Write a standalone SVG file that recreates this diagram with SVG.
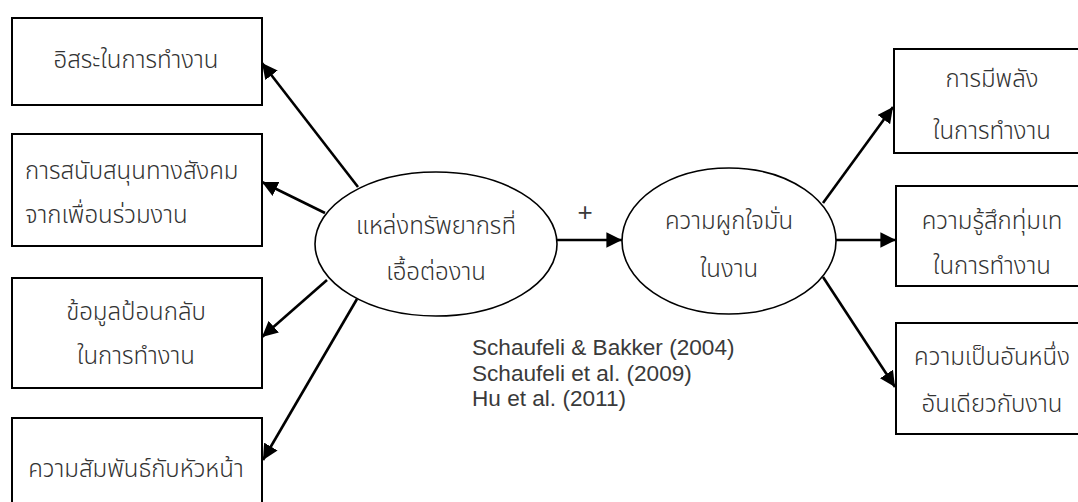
<svg xmlns="http://www.w3.org/2000/svg" width="1078" height="502" viewBox="0 0 1078 502">
  <style>
    .box { fill: #ffffff; stroke: #000000; stroke-width: 2; }
    .oval { fill: #ffffff; stroke: #000000; stroke-width: 1.6; }
    .th { font-family: "Noto Sans Thai", "Noto Sans Thai Looped", "Tlwg Typist", "Loma", "Garuda", "Noto Sans", "DejaVu Sans", sans-serif; font-size: 24px; font-weight: 300; fill: #333333; dominant-baseline: central; }
    .mid { text-anchor: middle; }
    .ref { font-family: "Liberation Sans", Arial, sans-serif; font-size: 22.6px; fill: #3a3a3a; dominant-baseline: central; }
    .plus { font-family: "Liberation Sans", Arial, sans-serif; font-size: 26px; fill: #3a3a3a; dominant-baseline: central; }
    .conn line { stroke: #000000; stroke-width: 2.6; }
  </style>
  <defs>
    <marker id="arrow" viewBox="0 0 10 10" refX="10" refY="5" markerWidth="6" markerHeight="6" markerUnits="strokeWidth" orient="auto">
      <path d="M0,0 L10,5 L0,10 z" fill="#000000"/>
    </marker>
  </defs>

  <!-- left-hand resource boxes -->
  <g id="autonomy">
    <rect class="box" x="12" y="18" width="250" height="87"/>
    <text class="th mid" x="136" y="61">อิสระในการทำงาน</text>
  </g>
  <g id="social-support">
    <rect class="box" x="12" y="134" width="250" height="112"/>
    <text class="th" x="25" y="172">การสนับสนุนทางสังคม</text>
    <text class="th" x="25" y="216">จากเพื่อนร่วมงาน</text>
  </g>
  <g id="feedback">
    <rect class="box" x="12" y="278" width="250" height="110"/>
    <text class="th mid" x="136" y="313">ข้อมูลป้อนกลับ</text>
    <text class="th mid" x="136" y="357">ในการทำงาน</text>
  </g>
  <g id="supervisor">
    <rect class="box" x="12" y="418" width="250" height="100"/>
    <text class="th mid" x="136" y="470">ความสัมพันธ์กับหัวหน้า</text>
  </g>

  <!-- central constructs -->
  <g id="job-resources">
    <ellipse class="oval" cx="436" cy="244" rx="121" ry="72"/>
    <text class="th mid" x="436" y="227">แหล่งทรัพยากรที่</text>
    <text class="th mid" x="436" y="273">เอื้อต่องาน</text>
  </g>
  <g id="engagement">
    <ellipse class="oval" cx="729" cy="241" rx="107" ry="73"/>
    <text class="th mid" x="729" y="222">ความผูกใจมั่น</text>
    <text class="th mid" x="729" y="270">ในงาน</text>
  </g>

  <!-- right-hand engagement dimensions -->
  <g id="vigor">
    <rect class="box" x="894" y="49" width="200" height="104"/>
    <text class="th mid" x="992" y="80">การมีพลัง</text>
    <text class="th mid" x="992" y="132">ในการทำงาน</text>
  </g>
  <g id="dedication">
    <rect class="box" x="896" y="186" width="200" height="100"/>
    <text class="th mid" x="992" y="222">ความรู้สึกทุ่มเท</text>
    <text class="th mid" x="992" y="267">ในการทำงาน</text>
  </g>
  <g id="absorption">
    <rect class="box" x="896" y="323" width="200" height="111"/>
    <text class="th mid" x="992" y="358">ความเป็นอันหนึ่ง</text>
    <text class="th mid" x="992" y="405">อันเดียวกับงาน</text>
  </g>

  <!-- arrows -->
  <g id="connectors" class="conn">
    <line x1="358" y1="187" x2="262" y2="63" marker-end="url(#arrow)"/>
    <line x1="325" y1="213" x2="262" y2="182" marker-end="url(#arrow)"/>
    <line x1="327" y1="280" x2="262" y2="337" marker-end="url(#arrow)"/>
    <line x1="357" y1="299" x2="263" y2="460" marker-end="url(#arrow)"/>
    <line x1="557" y1="240" x2="622" y2="240" marker-end="url(#arrow)"/>
    <line x1="823" y1="203" x2="893" y2="107" marker-end="url(#arrow)"/>
    <line x1="836" y1="240" x2="896" y2="240" marker-end="url(#arrow)"/>
    <line x1="823" y1="277" x2="895" y2="387" marker-end="url(#arrow)"/>
  </g>

  <g id="labels">
    <text class="plus" x="585" y="212" text-anchor="middle">+</text>
    <text class="ref" x="472" y="347">Schaufeli &amp; Bakker (2004)</text>
    <text class="ref" x="472" y="373">Schaufeli et al. (2009)</text>
    <text class="ref" x="472" y="398">Hu et al. (2011)</text>
  </g>
</svg>
